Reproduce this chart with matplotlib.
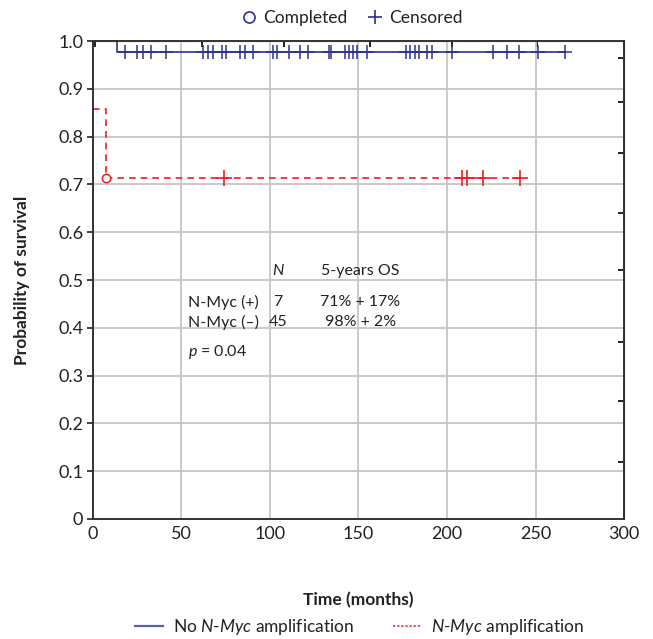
import matplotlib
matplotlib.use('Agg')
import matplotlib.pyplot as plt
from matplotlib.lines import Line2D

plt.rcParams['font.family'] = ['Lato', 'DejaVu Sans']
plt.rcParams['mathtext.fontset'] = 'custom'
plt.rcParams['mathtext.rm'] = 'Lato'
plt.rcParams['mathtext.it'] = 'Lato:italic'
plt.rcParams['mathtext.bf'] = 'Lato:bold'

# ---------------- data ----------------
# No N-Myc amplification (n = 45)
blue_times = [0, 13.5, 266.7]
blue_surv = [1.0, 0.978, 0.978]
blue_censored = [18.1, 24.7, 28.4, 32.6, 41.5, 62.3, 65.1, 67.6, 72.7, 74.9,
                 83.1, 85.9, 90.6, 101.5, 103.8, 110.9, 116.9, 121.6, 133.4,
                 134.2, 142.4, 144.8, 147.0, 149.0, 154.6, 176.8, 179.1, 181.9,
                 184.4, 188.5, 191.4, 202.7, 226.2, 233.7, 240.8, 251.6, 266.7]
# N-Myc amplification (n = 7)
red_times = [0, 7.3, 241.2]
red_surv = [0.857, 0.714, 0.714]
red_event_times = [7.3]
red_event_surv = [0.714]
red_censored = [74.2, 208.3, 211.1, 220.5, 241.2]

x_ticks = [0, 50, 100, 150, 200, 250, 300]
y_ticks = [0, 0.1, 0.2, 0.3, 0.4, 0.5, 0.6, 0.7, 0.8, 0.9, 1.0]
y_tick_labels = ['0', '0.1', '0.2', '0.3', '0.4', '0.5', '0.6', '0.7', '0.8', '0.9', '1.0']
top_extra_ticks = [1.1, 61.6, 108, 156.5, 203, 251]
right_extra_ticks = [0.965, 0.872, 0.766, 0.640, 0.521, 0.371, 0.246, 0.120]

groups = ['N-Myc (+)', 'N-Myc (–)']
n_values = ['7', '45']
os_values = ['71% + 17%', '98% + 2%']
p_text = '$p$ = 0.04'

# ---------------- style ----------------
NAVY = '#2e3192'
RED = '#ee1c25'
TXT = '#222222'
FS_TICK = 13
FS = 12.5
FS_TABLE = 11.5

fig = plt.figure(figsize=(6.53, 6.39), dpi=100)
ax = fig.add_axes([0.1424, 0.1878, 0.8132, 0.748])

ax.step(blue_times, blue_surv, where='post', color=NAVY, lw=1.2, zorder=2, clip_on=False)
ax.plot(blue_censored, [blue_surv[-1]] * len(blue_censored), ls='none', marker='+',
        color=NAVY, ms=10, mew=1.1, zorder=3, clip_on=False)

ax.step(red_times, red_surv, where='post', color=RED, lw=1.2, dashes=(4, 3), zorder=2)
ax.plot(red_censored, [red_surv[-1]] * len(red_censored), ls='none', marker='+',
        color=RED, ms=12, mew=1.2, zorder=3)
ax.plot(red_event_times, red_event_surv, ls='none', marker='o', mfc='white', mec=RED,
        ms=6, mew=1.1, zorder=3)

ax.set_xlim(0, 300)
ax.set_ylim(0, 1.0)
ax.set_xticks(x_ticks)
ax.set_xticklabels([str(v) for v in x_ticks])
ax.set_yticks(y_ticks)
ax.set_yticklabels(y_tick_labels)
ax.grid(True, color='#c6c6c6', lw=1.3)
ax.set_axisbelow(True)
ax.tick_params(axis='y', direction='out', length=4, width=1.2, color='#222', labelsize=FS_TICK,
               labelcolor=TXT, pad=3)
ax.tick_params(axis='x', length=0, labelsize=FS_TICK, labelcolor=TXT, pad=5)
for s in ax.spines.values():
    s.set_color('#333333')
    s.set_linewidth(1.4)

top = ax.secondary_xaxis('top')
top.set_xticks(top_extra_ticks)
top.set_xticklabels([''] * len(top_extra_ticks))
top.tick_params(direction='in', length=4, width=1.4, color='#222')
right = ax.secondary_yaxis('right')
right.set_yticks(right_extra_ticks)
right.set_yticklabels([''] * len(right_extra_ticks))
right.tick_params(direction='in', length=4, width=1.4, color='#222')

ax.set_xlabel('Time (months)', fontsize=12.5, fontweight='bold', color=TXT, labelpad=36)
ax.set_ylabel('Probability of survival', fontsize=12.5, fontweight='bold', color=TXT, labelpad=20)

# ---------------- table text ----------------
col_label, col_n, col_os = 53.7, 104.5, 151.0
y_head, y_rows, y_p = 0.519, [0.454, 0.412], 0.349
ax.text(col_n, y_head, '$N$', ha='center', va='center', fontsize=FS_TABLE, color=TXT)
ax.text(col_os, y_head, '5-years OS', ha='center', va='center', fontsize=FS_TABLE, color=TXT)
for g, n, o, yy in zip(groups, n_values, os_values, y_rows):
    ax.text(col_label, yy, g, ha='left', va='center', fontsize=FS_TABLE, color=TXT)
    ax.text(col_n, yy, n, ha='center', va='center', fontsize=FS_TABLE, color=TXT)
    ax.text(col_os, yy, o, ha='center', va='center', fontsize=FS_TABLE, color=TXT)
ax.text(col_label, y_p, p_text, ha='left', va='center', fontsize=FS_TABLE, color=TXT)

# ---------------- legends ----------------
top_handles = [Line2D([], [], ls='none', marker='o', mfc='none', mec=NAVY, ms=8, mew=1.2),
               Line2D([], [], ls='none', marker='+', color=NAVY, ms=10, mew=1.2)]
fig.legend(top_handles, ['Completed', 'Censored'], loc='center', bbox_to_anchor=(0.54, 0.972),
           ncol=2, frameon=False, fontsize=FS, handlelength=0.8, handletextpad=0.4,
           columnspacing=1.2, labelcolor=TXT)

bot_handles = [Line2D([], [], color='#5b64a8', lw=1.6),
               Line2D([], [], color=RED, lw=1.1, ls=(0, (1.5, 1.2)))]
fig.legend(bot_handles, ['No $N$-$Myc$ amplification', '$N$-$Myc$ amplification'],
           loc='center', bbox_to_anchor=(0.551, 0.019), ncol=2, frameon=False, fontsize=FS,
           handlelength=1.6, handletextpad=0.6, columnspacing=2.2, labelcolor=TXT)

fig.savefig('out.png', dpi=100, facecolor='white')
